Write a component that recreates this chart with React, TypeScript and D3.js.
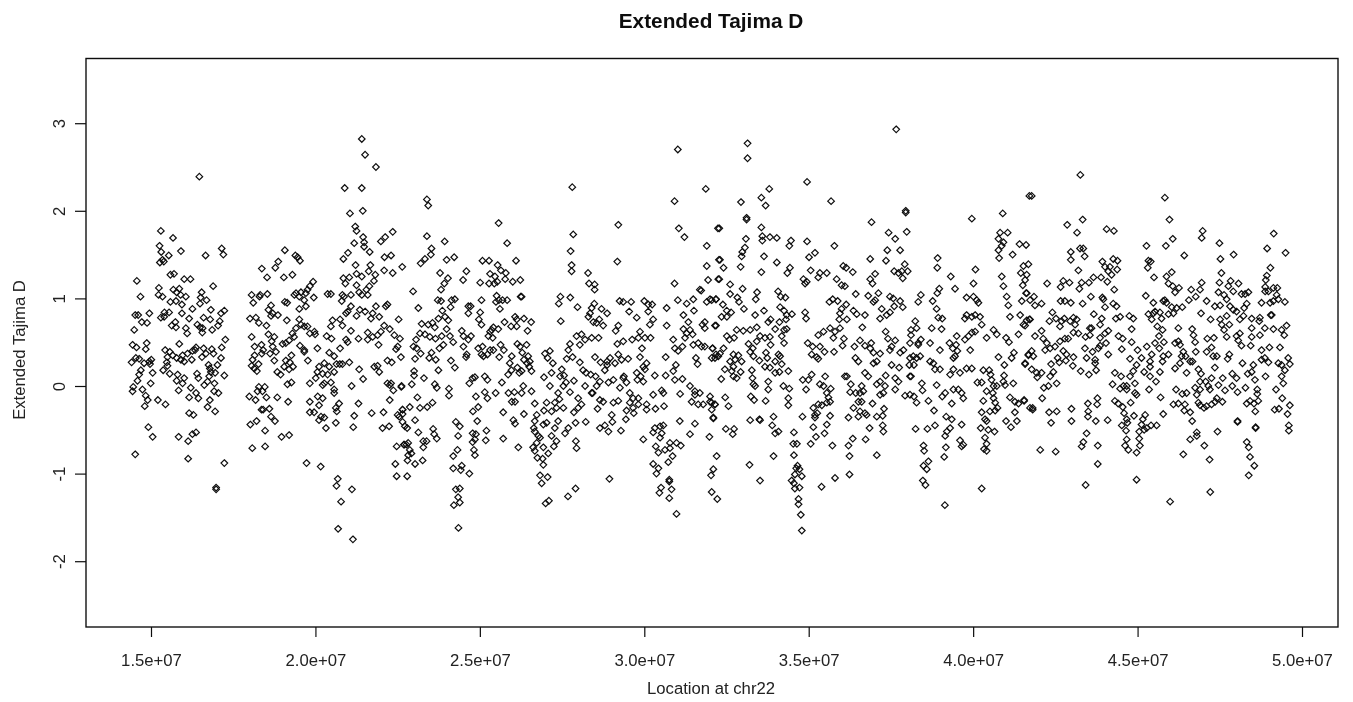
import React, { useEffect, useRef } from "react";
import * as d3 from "d3";

const WIDTH = 1353;
const HEIGHT = 702;

const xTicks = [15, 20, 25, 30, 35, 40, 45, 50];
const xTickLabels = ["1.5e+07", "2.0e+07", "2.5e+07", "3.0e+07", "3.5e+07", "4.0e+07", "4.5e+07", "5.0e+07"];
const yTicks = [-2, -1, 0, 1, 2, 3];

// location in Mb, extended Tajima D
const sectionA: [number, number][] = [
  [16.47,2.39],[21.41,2.82],[21.51,2.64],[21.84,2.5],[20.89,2.26],[21.41,2.26],[21.05,1.97],[21.44,2],[21.21,1.82],[21.25,1.77],[22.35,1.76],[22.12,1.7],[21.99,1.65],[21.45,1.7],[21.48,1.64],[21.48,1.59],[21.18,1.63],[21.65,1.53],[20.99,1.52],[20.85,1.45],[22.1,1.47],[22.3,1.49],[21.22,1.38],[21.67,1.38],[22.64,1.36],[22.09,1.32],[22.35,1.29],[21.62,1.31],[21.82,1.27],[21.25,1.28],[21.41,1.25],[20.85,1.23],[21.03,1.24],[20.91,1.17],[21.78,1.2],[21.25,1.15],[21.64,1.14],[21.55,1.1],[21.33,1.07],[21.59,1.04],[21.41,1.04],
  [15.3,1.77],[15.67,1.69],[15.26,1.6],[15.31,1.53],[15.54,1.49],[15.91,1.54],[15.35,1.44],[15.27,1.41],[15.39,1.42],[17.15,1.57],[17.2,1.5],[16.66,1.49],[15.59,1.27],[15.7,1.28],[16.01,1.22],[16.2,1.22],[14.57,1.2],[16.89,1.14],[15.24,1.12],[15.68,1.1],[15.86,1.11],[15.78,1.07],[16.54,1.07],[14.68,1.02],[15.23,1.04],[15.35,1.02],[15.9,1.04],[16.06,1.02],[16.51,1.01],[16.69,.98],[15.59,.96],[15.76,.97],[15.94,.93],[16.49,.94],[16.26,.88],[16.82,.87],[17.23,.86],[17.13,.83],
  [14.95,.83],[14.52,.81],[14.61,.81],[15.41,.84],[15.55,.84],[15.3,.78],[15.4,.79],[15.94,.83],[16.6,.78],[16.8,.76],[16.16,.77],[17.09,.74],[14.72,.73],[14.88,.72],[15.74,.73],[15.63,.69],[15.76,.67],[16.41,.7],[16.49,.67],[16.57,.66],[17.04,.69],[16.86,.64],[16.06,.66],[16.1,.6],[14.49,.64],[16.56,.61],[17.26,.53],
  [14.44,.47],[14.56,.44],[14.87,.49],[14.84,.42],[15.86,.48],[17.15,.44],[15.43,.41],[15.57,.39],[15.5,.33],[15.66,.35],[15.78,.32],[15.96,.35],[16.11,.37],[16.24,.3],[16.37,.44],[16.26,.4],[16.34,.41],[16.6,.43],[16.85,.42],[16.9,.37],[16.67,.37],[16.55,.33],[17.13,.32],[14.41,.27],[14.54,.32],[14.64,.31],[14.79,.26],[14.95,.28],[15.01,.3],[14.97,.25],[15.48,.27],[15.5,.23],[16.01,.28],[15.91,.3],[16.75,.24],[16.79,.2],[17.02,.24],
  [15.05,.15],[14.69,.18],[14.64,.13],[15.37,.18],[15.57,.14],[15.81,.13],[16.01,.09],[15.78,.06],[15.96,.03],[16.4,.14],[16.44,.09],[16.82,.16],[16.95,.15],[17.23,.12],[16.77,.11],[16.72,.05],[16.62,.01],[14.59,.06],[14.99,.03],[16.93,.03],
  [14.46,-.01],[14.44,-.06],[14.74,-.04],[15.84,-.05],[16.21,-.02],[16.37,-.08],[16.92,-.06],[17.05,-.08],[14.84,-.11],[14.9,-.16],[15.21,-.16],[15.44,-.21],[16.16,-.13],[16.44,-.14],[16.79,-.16],[16.72,-.24],[16.95,-.29],[14.81,-.23],[16.16,-.31],[16.29,-.33],
  [14.92,-.47],[15.05,-.58],[15.84,-.58],[16.13,-.63],[16.26,-.55],[16.37,-.53],[14.52,-.78],[16.13,-.83],[17.23,-.88],[16.98,-1.16],[16.98,-1.18],
  [19.07,1.55],[18.37,1.34],[18.87,1.42],[18.78,1.35],[19.39,1.49],[19.46,1.47],[19.53,1.43],[18.53,1.24],[19.04,1.24],[19.3,1.27],
  [18.06,1.04],[18.3,1.02],[18.54,1.05],[18.32,1.04],[18.11,.95],[19.36,1.04],[19.51,1.02],[19.41,1.06],[19.56,1.07],[19.76,1.1],[19.83,1.14],[19.93,1.19],[19.95,1.01],[19.71,1.06],[19.66,.98],[19.07,.96],[19.14,.95],[18.65,.92],[18.57,.87],[18.7,.83],[18.86,.81],[18.65,.8],[19.51,.88],[19.71,.91],[20.37,1.05],[20.47,1.05],
  [18.01,.77],[18.19,.78],[18.28,.72],[18.51,.69],[19.13,.75],[19.51,.76],[19.56,.7],[19.66,.68],[19.41,.66],[19.3,.6],[19.76,.68],[19.83,.6],[19.99,.59],[19.97,.62],[18.06,.56],[18.57,.59],[18.75,.56],[18.67,.51],[19.2,.52],[19.35,.56],[19.1,.49],[19,.48],[18.36,.47],[18.15,.45],[18.41,.41],[18.37,.37],[18.7,.45],[18.8,.39],[18.62,.37],[19.53,.46],[19.66,.41],[19.66,.39],[20.06,.43],[18.15,.35],[18.09,.3],[18.27,.25],[18.06,.23],[18.14,.2],[18.22,.17],[19.27,.35],[19.1,.29],[19.22,.27],[19.05,.22],[19.32,.22],[19.2,.19],[18.75,.29],[19.77,.29],[18.84,.16],[18.94,.13],[19.15,.02],[19.27,.04],[18.28,-.01],[18.46,-.01],[18.24,-.06],[18.39,-.06],[18.51,-.13],[17.99,-.12],[18.18,-.16],[18.84,-.13],[19.17,-.18],[18.36,-.27],[18.41,-.27],[18.6,-.26],[18.65,-.35],[18.77,-.4],[18.21,-.4],[18.02,-.44],[18.47,-.51],[18.97,-.58],[19.2,-.56],[18.08,-.71],[18.47,-.69],[19.73,-.88],[20.16,-.92],
  [20.52,.75],[20.47,.68],[20.34,.57],[20.49,.54],[20.75,.76],[20.82,.69],[21.08,.63],[20.93,.53],[20.98,.5],[21.31,.54],[20.75,.43],[20.42,.38],[20.57,.34],[20.27,.26],[20.42,.22],[20.11,.22],[20.06,.16],[20.22,.14],[20.37,.13],[20.57,.16],[20.64,.25],[20.74,.25],[20.82,.25],[21.03,.27],[20.01,.09],[19.83,.03],[20.27,.03],[20.22,.01],[20.47,.04],[20.57,-.04],[20.57,-.08],[21.33,.19],[21.45,.08],[21.1,0],[20.07,-.12],[20.22,-.14],[20.11,-.22],[19.83,-.18],[19.83,-.3],[19.96,-.3],[20.72,-.2],[20.62,-.25],[20.65,-.29],[21.31,-.2],[20.17,-.35],[20.27,-.36],[20.11,-.39],[20.32,-.48],[20.62,-.42],[21.18,-.34],[21.15,-.47],[21.71,-.31],[22.07,-.3],[22.04,-.48],[22.24,-.46],[22.26,-.16],[22.19,.03],[22.26,.01],[22.37,-.05],[22.61,-.01],[22.3,.03],[22.19,.29],[22.32,.27],[22.6,.33],[21.79,.22],[21.89,.23],[21.94,.16],
  [21.59,.61],[21.74,.56],[21.59,.53],[21.89,.58],[21.99,.62],[22.09,.69],[22.26,.65],[22.4,.58],[22.57,.54],[22.5,.45],[22.45,.42],[21.92,.47],[21.69,.77],[22.53,.76],[21.35,.87],[21.51,.85],[21.74,.83],[21.84,.91],[21.94,.79],[22.19,.93],[22.14,.91],[21.08,.91],[20.98,.85],[20.93,.83],[21.25,.8],[20.82,1.04],[20.87,1.02],[20.8,.97],[21.08,1.04],[22.47,-.69],[22.7,-.67],[22.43,-.89],[22.47,-1.03],[20.68,-1.06],[20.64,-1.14],[21.11,-1.18],[20.78,-1.32],[20.69,-1.63],[21.14,-1.75],[22.55,-.35],[22.65,-.27],[22.5,-.33],[22.65,-.41],
];

const sectionB: [number, number][] = [
  [31.02,2.7],[27.81,2.27],[31.87,2.25],[30.92,2.11],[23.39,2.13],[23.43,2.06],[25.57,1.86],[29.21,1.84],[31.05,1.8],[31.22,1.7],[32.24,1.8],[23.39,1.71],[27.84,1.73],[23.93,1.65],[25.83,1.63],[31.9,1.6],[27.76,1.54],[23.53,1.57],[23.51,1.5],[23.33,1.45],[23.2,1.4],[23.99,1.44],[24.22,1.47],[25.08,1.43],[25.28,1.43],[26.1,1.43],[29.18,1.42],[27.79,1.38],[27.79,1.31],[25.54,1.38],[25.64,1.32],[25.79,1.29],[25.31,1.28],[25.46,1.25],[31.9,1.37],[32.27,1.44],[23.79,1.29],[24.59,1.31],[28.29,1.29],[24.03,1.23],[23.92,1.17],[23.82,1.1],[24.49,1.21],[25.01,1.18],[25.28,1.17],[25.44,1.17],[25.53,1.19],[25.77,1.22],[26,1.19],[26.23,1.21],[28.32,1.17],[28.49,1.16],[28.49,1.1],[30.92,1.17],[31.94,1.21],[32.25,1.22],[22.97,1.08],[31.73,1.09],[31.69,1.1],[27.45,1.02],[27.4,.94],[27.75,1.01],[26.24,1.02],[26.27,1.02],[25.51,1.03],[25.58,.98],[25.69,.98],[25.83,.98],[25.49,.96],[23.72,.98],[23.82,.97],[24.14,.98],[24.24,.99],[24.11,.9],[25.05,.98],[29.25,.97],[29.36,.96],[29.6,.96],[30,.97],[30.12,.93],[30.24,.93],[30.12,.85],[31.02,.98],[31.29,.94],[31.49,.99],[31.51,.86],[31.9,.96],[32.05,.98],[32.18,.99],[23.13,.89],[24.65,.91],[24.72,.91],[24.65,.83],[25.01,.84],[25.61,.88],[27.97,.9],[28.48,.94],[28.4,.89],[28.35,.83],[28.3,.79],[28.7,.88],[28.87,.83],[29.54,.85],[30.68,.89],
  [23.86,.86],[23.94,.79],[24.04,.75],[23.74,.77],[23.56,.72],[23.43,.7],[23.63,.67],[23.23,.71],[24.97,.76],[25.05,.7],[26.07,.79],[26.12,.76],[26.34,.77],[26.56,.73],[25.95,.68],[26.12,.68],[26.45,.63],[25.75,.73],[25.41,.67],[25.56,.65],[25.31,.62],[25.36,.64],[27.46,.74],[29.77,.78],[30.27,.76],[30.17,.7],[31.19,.81],[31.34,.73],[31.19,.65],[31.39,.64],[31.47,.59],[31.29,.6],[31.24,.55],[30.68,.69],[31.77,.7],[31.84,.73],[31.84,.66],[32.15,.69],[28.45,.73],[28.63,.76],[28.75,.69],[28.55,.72],[29.21,.69],[29.13,.63],[24.45,.63],[24.5,.57],[24.73,.57],[24.65,.53],[23.99,.65],[24.09,.57],[24.19,.5],[23.18,.6],[23.33,.59],[23.48,.56],[23.06,.53],[23.84,.57],[23.65,.54],[25.26,.57],[25.39,.55],[27.94,.57],[28.09,.59],[28.2,.53],[28.4,.55],[28.61,.55],[29.87,.62],[29.82,.55],[29.63,.53],[30.02,.55],[30.19,.55],[29.36,.51],[29.18,.48],[30.88,.53],[25.63,.47],[25.73,.41],[26.14,.48],[26.22,.45],[26.42,.47],[27.74,.48],[27.69,.41],[28.04,.47],[31.49,.47],[31.64,.49],[31.74,.45],[31.84,.45],[32.07,.43],[32.25,.34],
  [24.5,.45],[24.95,.43],[25.08,.45],[25.31,.41],[25.23,.36],[25.11,.34],[25.05,.36],[25.41,.41],[22.98,.45],[23.08,.43],[23.2,.37],[23.03,.31],[23.77,.43],[23.89,.47],[23.53,.38],[23.46,.32],[23.66,.3],[24.6,.36],[24.58,.33],[30.93,.43],[31.03,.4],[31.16,.45],[29.93,.43],[26.98,.37],[27.13,.4],[27.06,.32],[27.22,.26],[25.59,.33],[25.97,.34],[25.91,.26],[26.29,.38],[26.47,.34],[26.52,.28],[26.34,.3],[26.44,.26],[26.5,.22],[29.87,.33],[28.5,.33],[28.67,.27],[28.87,.28],[28.96,.32],[29.11,.26],[29.21,.36],[29.31,.3],[29.51,.31],[28.87,.24],[28.8,.18],[27.64,.31],[27.82,.33],[30.65,.33],[31.57,.32],[31.62,.25],[32.18,.36],[24.12,.29],[24.24,.21],[28.04,.27],[28.14,.18],[28.23,.15],[28.37,.13],[28.52,.11],[26.14,.21],[26.2,.15],[25.86,.13],[25.96,.18],[26.27,.17],[26.57,.17],[23,.17],[23,.12],[23.74,.18],[23.3,.09],[24.78,.09],[24.85,.1],[25.15,.11],[25.23,.07],[24.68,.03],[26.95,.1],[27.18,.15],[27.49,.19],[27.56,.12],[27.44,.11],[27.86,.06],[29.77,.15],[29.89,.11],[30.07,.26],[29.97,.22],[30.02,.19],[30.32,.12],[29.79,.07],[29.97,.05],[28.91,.04],[29.06,.07],[29.38,.11],[29.46,.04],[29.26,-.02],[29.36,.09],[30.65,.12],[30.88,.17],[30.96,.24],[30.93,.07],[31.16,.08],[22.93,.02],[22.62,0],[23.63,.02],[23.69,-.02],[24.06,-.03],[24.06,-.11],[25.67,.04],[27.13,0],[27.54,0],[27.62,.04],[27.74,-.07],[28.2,0],[28.4,-.08],[28.55,0],[28.65,.05],[26.32,0],[26.27,-.08],[26.57,-.06],[26.67,-.2],
  [25.87,-.08],[26.05,-.07],[25.97,-.18],[26.07,-.18],[25.15,-.07],[25.48,-.08],[24.88,-.12],[25.23,-.14],[23.1,-.13],[23.56,-.19],[23.4,-.24],[23.18,-.25],[22.87,-.24],[22.65,-.27],[22.65,-.32],[24.95,-.24],[24.79,-.29],[25.71,-.3],[26.34,-.32],[27.38,-.08],[27.42,-.15],[27.28,-.19],[27.18,-.29],[27.33,-.25],[27.54,-.25],[27.03,-.19],[26.95,-.28],[28.09,-.21],[27.99,-.14],[27.99,-.25],[27.86,-.3],[28.43,-.08],[28.65,-.16],[28.75,-.18],[29.06,-.19],[29.21,-.17],[28.58,-.26],[29.56,-.08],[29.66,-.14],[29.82,-.14],[29.56,-.19],[29.66,-.25],[29.82,-.21],[29.46,-.28],[29.68,-.31],[30.07,-.27],[30.07,-.21],[30.34,-.26],[30.58,-.08],[30.53,-.05],[30.6,-.23],[30.27,-.1],[31.39,0],[31.54,-.1],[31.69,-.08],[31.44,-.18],[31.64,-.21],[31.54,-.06],[32.15,-.21],[32,-.18],[31.79,-.21],[32.05,-.27],[31.09,-.09],[29.01,-.33],[28.8,-.45],[29.03,-.41],[28.65,-.48],[28.91,-.52],[29.29,-.51],[29.44,-.38],[31.08,-.4],[31.54,-.43],[32.1,-.37],
  [23.03,-.39],[23.13,-.53],[22.79,-.48],[22.72,-.46],[23.58,-.49],[23.61,-.55],[23.69,-.6],[23.28,-.63],[23.38,-.63],[23.28,-.7],[22.77,-.67],[22.69,-.67],[22.82,-.65],[22.87,-.73],[22.92,-.77],[22.82,-.79],[22.8,-.85],[23.26,-.85],[23.03,-.89],[22.79,-1.03],[24.27,-.41],[24.39,-.46],[24.34,-.57],[24.92,-.4],[24.78,-.54],[24.88,-.55],[24.85,-.61],[24.78,-.64],[25.2,-.51],[25.18,-.62],[25.71,-.6],[26.02,-.39],[26.07,-.43],[26.17,-.7],[26.73,-.33],[26.67,-.4],[26.64,-.48],[26.67,-.52],[26.78,-.57],[26.83,-.59],[26.73,-.65],[26.62,-.7],[26.67,-.74],[26.93,-.7],[26.75,-.82],[26.91,-.83],[26.93,-.44],[27.03,-.42],[27.28,-.48],[27.38,-.4],[27.18,-.57],[27.33,-.63],[27.25,-.69],[27.08,-.77],[27.59,-.54],[27.69,-.48],[27.91,-.42],[28.22,-.41],[27.92,-.63],[27.94,-.71],[26.93,-.9],[26.83,-1.02],[26.88,-1.11],[27.06,-1.04],[27,-1.34],[27.1,-1.31],[27.68,-1.26],[27.91,-1.17],[28.94,-1.06],[29.97,-.61],[31.39,-.55],[31.98,-.58],
  [30.32,-.48],[30.48,-.46],[30.58,-.45],[30.27,-.53],[30.53,-.54],[30.48,-.59],[30.35,-.69],[30.63,-.73],[30.43,-.76],[30.78,-.65],[30.98,-.65],[31.11,-.68],[30.78,-.71],[30.86,-.8],[30.73,-.87],[30.27,-.89],[30.43,-.94],[30.37,-1],[30.76,-1.07],[30.76,-1.09],[30.51,-1.16],[30.83,-1.18],[30.46,-1.22],[30.76,-1.28],[30.98,-1.46],[32.2,-.8],[32.1,-.95],[32.03,-1.02],[32.05,-1.21],[32.22,-1.29],[24.19,-.8],[24.32,-.73],[24.19,-.94],[24.45,-.91],[24.42,-.96],[24.68,-1],[24.82,-.73],[24.85,-.79],[24.27,-1.18],[24.39,-1.17],[24.34,-1.27],[24.39,-1.33],[24.21,-1.36],[24.35,-1.62],
];

const sectionC: [number, number][] = [
  [37.66,2.93],[33.14,2.77],[33.14,2.6],[34.95,2.33],[33.8,2.25],[33.56,2.15],[33.69,2.06],[32.94,2.1],[35.68,2.11],[37.95,2],[37.95,1.98],[40.9,1.97],[41.71,2.17],[39.96,1.91],[33.11,1.92],[33.11,1.9],[36.91,1.87],[32.28,1.8],[33.56,1.81],[37.43,1.75],[37.98,1.76],[37.63,1.68],[37.78,1.55],[40.82,1.75],[41.05,1.75],[40.77,1.68],[40.92,1.64],[40.87,1.6],[40.77,1.55],[40.79,1.46],[33.09,1.68],[33.06,1.58],[32.98,1.53],[32.96,1.48],[32.93,1.36],[33.59,1.71],[33.59,1.66],[33.82,1.7],[34.03,1.69],[34.46,1.66],[34.41,1.6],[34.95,1.65],[35.78,1.6],[41.41,1.62],[41.61,1.61],[35.19,1.52],[35.01,1.47],[33.64,1.48],[32.3,1.44],[32.41,1.35],[32.28,1.22],[34.03,1.41],[36.87,1.45],[37.39,1.55],[37.35,1.43],[41.2,1.5],[36.05,1.37],[36.14,1.35],[36.34,1.3],[37.92,1.39],[37.83,1.31],[37.73,1.29],[38.01,1.31],[37.6,1.31],[37.86,1.23],[38.92,1.46],[38.91,1.35],[39.32,1.25],[40.07,1.33],[40.87,1.25],[40.92,1.14],[34.43,1.35],[34.35,1.29],[33.56,1.3],[35.06,1.32],[35.34,1.29],[35.55,1.29],[35.29,1.24],[35.85,1.22],[34.84,1.22],[34.94,1.19],[34.89,1.17],[37.02,1.28],[36.87,1.22],[36.94,1.17],[41.53,1.37],[41.68,1.39],[41.45,1.29],[41.63,1.27],[41.58,1.21],[41.51,1.15],[41.61,1.06],[36,1.15],[36.1,1.14],[36.43,1.05],
  [32.61,1.16],[32.99,1.11],[32.61,1.05],[32.83,1.01],[32.88,.96],[33.03,.88],[33.43,1.07],[33.39,.99],[34.07,1.08],[34.15,1.02],[34.29,1.01],[40.01,1.17],[39.45,1.11],[38.97,1.11],[38.91,1.06],[39.8,1.01],[40.01,1.02],[40.11,.98],[40.16,.95],[41.02,1.02],[41.07,.92],[41.48,.97],[41.73,.98],[32,.99],[32.18,.99],[36.81,1.03],[37.12,1.06],[37.02,.98],[36.97,.96],[37.47,1.02],[37.57,1],[37.78,.97],[37.6,.91],[37.86,.9],[35.63,.96],[35.73,.99],[35.88,.97],[38.41,1.04],[38.33,.96],[38.77,.97],[32.39,.93],[32.35,.79],[32.51,.86],[32.64,.84],[32.51,.79],[34.13,.9],[34.25,.86],[34.33,.81],[34.49,.82],[34.31,.76],[34.11,.73],[33.64,.86],[33.37,.81],[34.89,.84],[34.92,.77],[36.14,.93],[36,.88],[35.95,.83],[35.93,.76],[36.16,.76],[36.36,.86],[36.46,.82],[36.71,.81],[37.22,.88],[37.17,.77],[37.47,.84],[37.37,.81],[38.89,.88],[38.94,.78],[39.06,.77],[39.8,.81],[39.75,.77],[40.06,.81],[40.21,.79],[39.96,.79],[41.12,.79],[41.43,.81],[41.63,.75],[32.18,.69],[33.84,.76],[33.77,.73],[33.98,.65],[33.22,.64],[33.42,.67],[33.01,.63],[32.81,.64],[38.24,.74],[38.28,.66],[38.11,.64],[38.11,.58],[36.63,.67],[38.74,.66],[39.04,.65],[40.26,.7],[40.62,.64],[40.72,.59],[34.33,.65],[34.25,.64],[34.18,.57],[35.65,.66],[35.45,.62],[35.29,.58],[35.8,.62],[35.95,.66],[41.58,.69],[41.38,.59],[41.73,.76],
  [32.51,.57],[32.73,.55],[32.59,.53],[33.52,.57],[33.67,.55],[33.82,.56],[33.42,.51],[35.75,.55],[36.07,.54],[36.03,.46],[37.34,.62],[37.41,.54],[37.63,.52],[39.96,.61],[40.06,.62],[39.86,.57],[39.75,.53],[39.5,.57],[39.28,.49],[39.48,.47],[39.38,.43],[40.41,.55],[41,.55],[41.09,.5],[38.08,.49],[38.41,.53],[38.33,.47],[38.69,.49],[38.99,.41],[33.84,.47],[34.25,.49],[33.17,.48],[34.97,.49],[35.12,.45],[35.34,.45],[35.48,.39],[36.56,.52],[36.71,.46],[36.9,.49],[36.87,.43],[36.97,.38],[37.17,.37],[36.39,.45],[35.77,.39],[32.08,.43],[32.41,.43],[32.3,.37],[32.15,.32],[32.05,.32],[33.3,.43],[33.22,.39],[33.32,.34],[33.7,.38],[33.74,.32],[33.5,.29],[32.71,.36],[32.86,.35],[32.76,.3],[32.96,.28],[32.61,.28],[32.71,.22],[34.13,.34],[33.98,.28],[34.18,.25],[34.08,.36],[35.09,.36],[35.29,.31],[35.24,.33],[37.52,.45],[37.47,.41],[37.88,.41],[37.78,.38],[38.33,.49],[38.18,.34],[38.08,.32],[38.28,.32],[38.39,.34],[38.06,.24],[38.2,.24],[38.69,.28],[38.79,.26],[39.45,.34],[39.52,.4],[39.4,.32],[39.91,.41],[40.77,.33],[41.17,.32],[41.24,.38],[41.58,.26],[41.68,.36],[36.42,.32],[36.51,.28],[36.97,.26],[37.07,.28],[37.52,.24],[37.75,.21],[38.08,.11],[39.4,.19],[39.6,.15],[39.3,.13],[38.99,.19],[38.84,.19],[39.8,.2],[39.96,.2],[40.31,.18],[40.49,.18],[40.95,.24],
  [32.45,.19],[32.34,.08],[32.66,.17],[32.93,.16],[32.71,.11],[32.81,.09],[33.27,.18],[33.29,.09],[33.32,.02],[33.37,0],[33.67,.22],[33.82,.21],[33.98,.15],[34.11,.16],[34.38,.17],[33.77,.05],[33.77,-.04],[34.23,0],[34.41,-.03],[34.82,.07],[35.09,.13],[34.99,.07],[34.92,-.04],[35.5,.11],[35.34,.02],[35.45,0],[35.67,-.03],[35.55,-.08],[35.6,-.13],[36.1,.11],[36.16,.11],[36.28,.02],[36.26,-.07],[36.43,-.08],[36.71,.15],[36.81,.11],[36.61,0],[36.66,-.06],[36.56,-.08],[37.17,.05],[37.34,.12],[37.07,.02],[37.32,0],[37.27,-.08],[37.17,-.1],[37.63,.09],[37.73,.05],[37.63,-.04],[38.11,.11],[37.93,-.11],[38.08,-.1],[38.2,-.12],[38.28,-.19],[38.44,.03],[38.46,-.05],[38.89,.01],[39.15,-.08],[39.06,-.12],[39.4,-.04],[39.55,-.04],[39.65,-.08],[39.7,-.14],[40.13,.04],[40.26,.04],[40.41,-.06],[40.53,.13],[40.56,.07],[40.62,0],[40.72,0],[40.94,.12],[40.92,.05],[40.97,.01],[41.22,.03],[40.6,-.08],[40.62,-.14],[40.67,-.19],[40.74,-.25],[40.31,-.17],[41.12,-.13],[41.27,-.18],[41.38,-.2],[41.27,-.3],[41.55,-.16],[32.46,-.13],[32.56,-.23],[32,-.12],[32.15,-.21],[32.05,-.19],[32.1,-.36],[33.24,-.12],[33.34,-.16],[33.69,-.17],[34.38,-.14],[34.38,-.22],
  [33.22,-.39],[33.5,-.38],[33.52,-.39],[33.93,-.35],[33.89,-.45],[33.98,-.54],[34.08,-.52],[32.48,-.49],[32.73,-.49],[32.69,-.55],[34.81,-.35],[35.14,-.25],[35.29,-.21],[35.19,-.33],[35.26,-.31],[35.19,-.36],[35.65,-.18],[35.55,-.19],[35.4,-.22],[35.65,-.34],[35.14,-.47],[35.55,-.44],[35.48,-.54],[35.22,-.58],[35.06,-.66],[36.36,-.25],[36.51,-.18],[36.61,-.18],[36.56,-.29],[36.71,-.31],[36.76,-.33],[36.21,-.36],[36.51,-.35],[36.94,-.2],[37.07,-.35],[37.29,-.26],[37.25,-.34],[37.25,-.45],[37.27,-.52],[36.85,-.48],[36.73,-.61],[36.34,-.6],[36.21,-.68],[35.72,-.68],[36.24,-.8],[37.07,-.79],[36.24,-1.01],[35.8,-1.05],[35.39,-1.15],[34.55,-.53],[34.53,-.66],[34.64,-.66],[34.55,-.79],[33.93,-.8],[33.2,-.9],[33.52,-1.08],[34.66,-.91],[34.62,-.94],[34.72,-.95],[34.58,-1.01],[34.79,-1.03],[34.48,-1.08],[34.55,-1.11],[34.72,-1.16],[34.58,-1.17],[34.69,-1.29],[34.69,-1.35],[34.76,-1.47],[34.79,-1.65],[38.64,-.17],[38.81,-.28],[38.84,-.45],[38.61,-.49],[38.25,-.49],[39.35,-.2],[39.65,-.44],[39.18,-.35],[39.35,-.38],[39.3,-.48],[39.2,-.52],[39.15,-.57],[38.49,-.68],[38.51,-.74],[38.49,-.91],[38.64,-.86],[38.59,-.95],[38.47,-1.08],[38.55,-1.13],[39.17,-.7],[39.12,-.81],[39.6,-.62],[39.7,-.67],[39.65,-.69],[39.14,-1.36],[40.26,-1.17],[40.26,-.3],[40.36,-.38],[40.41,-.4],[40.46,-.5],[40.23,-.48],[40.65,-.52],[40.36,-.59],[40.41,-.66],[40.33,-.72],[40.41,-.74],[40.51,-.29],[40.67,-.28],[41,-.4],[41.15,-.47],[41.33,-.4],[41.73,-.25],
];

const sectionD: [number, number][] = [
  [43.26,2.41],[41.78,2.17],[45.83,2.15],[43.33,1.9],[42.86,1.84],[43.16,1.75],[45.97,1.9],[44.06,1.79],[44.28,1.77],[46.98,1.77],[46.95,1.69],[49.14,1.74],[46.07,1.68],[45.86,1.6],[45.27,1.6],[47.49,1.63],[47.92,1.5],[48.94,1.57],[49.5,1.52],[46.42,1.49],[47.52,1.45],[42.97,1.53],[42.97,1.44],[43.25,1.57],[43.35,1.57],[43.39,1.48],[43.93,1.42],[44.01,1.36],[44.16,1.36],[44.11,1.31],[44.26,1.45],[44.39,1.43],[44.38,1.33],[44.21,1.27],[44.08,1.19],[43.89,1.24],[45.33,1.43],[45.4,1.42],[45.31,1.35],[45.5,1.24],[45.88,1.25],[46.04,1.3],[45.94,1.17],[46.07,1.14],[46.26,1.12],[46.14,1.07],[49.04,1.35],[48.93,1.26],[48.9,1.21],[48.88,1.13],[48.98,1.08],[48.88,1.08],[49.13,1.12],[49.25,1.12],[49.23,1.04],[49.28,.99],[49.13,.97],[43.2,1.32],[43.3,1.18],[43.23,1.11],[43.52,1.18],[43.66,1.24],[47.55,1.29],[47.49,1.18],[47.46,1.07],[42.25,1.17],[42.74,1.2],[42.93,1.18],[42.66,1.13],[46.95,1.18],[46.9,1.1],[46.63,1.1],[46.77,1.02],[46.56,.98],[47.76,1.14],[47.83,1.2],[48.07,1.17],[47.91,1.08],[48.16,1.05],[48.37,1.07],[48.27,1.05],[44.29,1.1],[45.25,1.03],[41.85,1.02],[41.63,1.06],[42.08,.94],[41.88,.92],[43.93,1.01],[43.96,.99],[43.58,1.02],[43.33,.94],[42.66,.97],[42.79,.97],[42.97,.95],[45.48,.95],[45.83,.98],[45.88,.95],[45.78,.97],[46.19,.89],[46.36,.9],[46.04,.9],[46.09,.83],[45.94,.82],[47.1,.97],[47.35,.91],[47.51,.92],[47.63,1.04],[47.71,.99],[47.81,.91],[47.91,.87],[48.01,.85],[48.32,.94],[48.24,.89],[48.22,.8],[48.11,.76],[49.48,.96],[48.77,.95],[49.03,.95],[44.26,.94],[44.36,.91],[44.01,.9],
  [43.67,.82],[43.91,.77],[43.86,.7],[42.41,.84],[42.32,.74],[42.52,.77],[42.69,.74],[42.64,.68],[42.77,.77],[42.95,.74],[43.05,.78],[43.15,.76],[43.1,.7],[41.71,.76],[41.53,.7],[44.47,.79],[44.34,.77],[44.75,.8],[44.87,.77],[44.82,.65],[45.33,.82],[45.48,.83],[45.53,.85],[45.43,.76],[45.68,.84],[45.73,.77],[46.93,.83],[47.22,.76],[47.51,.76],[47.71,.8],[47.56,.7],[47.63,.64],[47.79,.7],[48.47,.77],[48.72,.78],[48.7,.74],[48.47,.66],[48.72,.58],[48.87,.66],[49.05,.81],[49.08,.81],[45.6,.68],[45.76,.64],[45.65,.57],[45.8,.5],[46.24,.66],[46.66,.65],[46.7,.58],[46.75,.5],[48.11,.6],[48.01,.57],[48.06,.52],[48.16,.46],[48.47,.56],[48.44,.46],[47.71,.56],[49.13,.65],[49.53,.69],[49.38,.64],[49.46,.58],[42.08,.63],[41.88,.57],[42.13,.54],[42.24,.49],[42.19,.41],[42.34,.43],[42.49,.45],[42.64,.51],[42.79,.54],[42.89,.54],[43.05,.61],[43.2,.6],[43.55,.66],[43.6,.66],[43.55,.58],[43.42,.56],[44.11,.63],[44.01,.6],[43.86,.55],[44.04,.49],[43.86,.46],[43.81,.43],[44.42,.57],[44.55,.54],[44.82,.5],[43.4,.43],[44.52,.42],[45,.41],[45.28,.45],[45.53,.49],[45.66,.43],[47.12,.54],[47.32,.55],[47.25,.44],[47.1,.39],[46.14,.49],[46.24,.51],[46.29,.47],[46.39,.39],[46.77,.39],[48.77,.41],[49.01,.44],[49.33,.44],[41.78,.4],[41.68,.35],[41.83,.34],[42.74,.4],[42.84,.36],[43.05,.33],[42.82,.29],[42.57,.32],[42.62,.27],[43.45,.32],[43.63,.39],[43.71,.3],[43.71,.26],[44.11,.36],[44.77,.31],[45.12,.32],[45.43,.36],[45.38,.28],[45.38,.22],[45.78,.34],[45.94,.36],[45.76,.28],[46.34,.34],[46.46,.34],[46.6,.28],[46.67,.28],[46.29,.26],[46.14,.2],[47.3,.34],[47.41,.34],[47.79,.36],[47.74,.31],[48.19,.26],[48.77,.3],[48.87,.32],[48.98,.27],[49.58,.32],[49.28,.26],[49.38,.24],[49.63,.25],
  [41.58,.25],[41.78,.19],[41.93,.15],[42.08,.15],[41.95,.1],[42.37,.25],[42.44,.16],[42.34,.11],[42.54,.03],[43.03,.23],[43.27,.17],[43.52,.13],[43.74,.18],[44.97,.24],[44.87,.17],[44.77,.11],[44.92,.03],[44.67,0],[44.31,.15],[44.5,.11],[44.24,.02],[44.57,0],[45.2,.16],[45.38,.11],[45.56,.05],[45.68,.16],[46.49,.15],[46.85,.19],[46.93,.14],[47.35,.21],[46.9,.05],[47.07,.05],[47.25,.09],[47.15,0],[47.46,.01],[47.2,-.04],[47.59,.09],[47.88,.14],[48.01,.09],[48.35,.14],[48.52,.24],[48.47,.16],[48.57,.07],[48.89,.11],[49.38,.11],[49.48,.18],[49.43,.03],[42.15,-.02],[42.29,0],[42.1,-.14],[41.55,-.17],[44.47,-.03],[44.67,-.04],[44.92,-.08],[44.97,-.1],[45.35,-.04],[45.7,-.13],[46.17,-.04],[46.36,-.09],[46.49,-.08],[46.75,-.02],[46.8,-.1],[46.9,-.04],[47.66,-.05],[47.88,0],[48.04,-.07],[48.28,-.02],[48.64,-.04],[48.64,-.09],[49.21,-.04],[49.4,-.14],[47.41,-.14],[47.58,-.18],[47.36,-.18],[47.25,-.21],[44.31,-.17],[44.41,-.2],[44.55,-.24],[44.79,-.19],[43.78,-.14],[43.49,-.2],[43.77,-.21],[46.09,-.21],[46.24,-.2],[46.44,-.21],[46.42,-.28],[46.6,-.3],[46.85,-.19],[46.9,-.22],[47.02,-.25],[47.1,-.23],[48.32,-.2],[48.42,-.17],[48.54,-.2],[48.67,-.17],[48.58,-.29],[49.17,-.27],[49.3,-.26],[49.63,-.22],[49.56,-.32],
  [41.81,-.25],[41.81,-.27],[42.31,-.3],[42.54,-.29],[42.99,-.26],[42.99,-.4],[42.37,-.42],[43.5,-.29],[43.49,-.35],[43.73,-.4],[44.09,-.39],[44.59,-.31],[44.67,-.38],[44.52,-.45],[44.69,-.42],[44.65,-.51],[44.89,-.34],[45.23,-.33],[45.16,-.38],[45.12,-.44],[45.2,-.5],[45.05,-.52],[45.28,-.48],[45.41,-.45],[45.58,-.45],[45.78,-.32],[46.66,-.4],[48.04,-.4],[48.04,-.41],[48.59,-.47],[48.59,-.48],[49.6,-.45],[49.6,-.51],[47.43,-.52],[43.45,-.54],[43.35,-.64],[43.3,-.69],[43.79,-.68],[46.8,-.53],[46.8,-.57],[46.6,-.61],[47.03,-.68],[44.67,-.61],[44.62,-.68],[44.72,-.73],[44.97,-.76],[45.07,-.68],[45.05,-.6],[42.04,-.73],[42.51,-.75],[46.39,-.78],[47.19,-.84],[48.32,-.64],[48.38,-.7],[48.42,-.81],[48.55,-.91],[48.38,-1.02],[43.79,-.89],[43.42,-1.13],[44.97,-1.07],[45.99,-1.32],[47.21,-1.21],
];

export default function App() {
  const svgRef = useRef<SVGSVGElement>(null);

  useEffect(() => {
    const svg = d3.select(svgRef.current);

    // Clear previous content
    svg.selectAll("*").remove();

    const box = { left: 86, right: 1338, top: 58.5, bottom: 627 };

    const xScale = d3.scaleLinear().domain([15, 50]).range([151, 1302]);
    const yScale = d3.scaleLinear().domain([-2, 3]).range([561.2, 123.2]);

    const font = "'Liberation Sans', Arial, sans-serif";

    svg
      .append("defs")
      .append("filter")
      .attr("id", "soft")
      .append("feGaussianBlur")
      .attr("stdDeviation", 0.35);

    const root = svg.append("g").attr("filter", "url(#soft)");

    root
      .append("rect")
      .attr("x", box.left)
      .attr("y", box.top)
      .attr("width", box.right - box.left)
      .attr("height", box.bottom - box.top)
      .attr("fill", "none")
      .attr("stroke", "#111")
      .attr("stroke-width", 1.4);

    // X axis
    const xAxis = root
      .append("g")
      .attr("transform", `translate(0,${box.bottom})`)
      .call(
        d3
          .axisBottom(xScale)
          .tickValues(xTicks)
          .tickFormat((_, i) => xTickLabels[i])
          .tickSize(10)
          .tickPadding(17)
      );
    xAxis.select(".domain").remove();
    xAxis.selectAll("line").attr("stroke", "#111").attr("stroke-width", 1.2);
    xAxis
      .selectAll("text")
      .attr("font-family", font)
      .attr("font-size", 16.7)
      .attr("fill", "#222");

    // Y axis, plain hyphen on the negative labels
    const yAxis = root
      .append("g")
      .attr("transform", `translate(${box.left},0)`)
      .call(d3.axisLeft(yScale).tickValues(yTicks).tickFormat((d) => String(d)).tickSize(11));
    yAxis.select(".domain").remove();
    yAxis.selectAll("line").attr("stroke", "#111").attr("stroke-width", 1.2);
    yAxis
      .selectAll("text")
      .attr("font-family", font)
      .attr("font-size", 16.7)
      .attr("fill", "#222")
      .attr("text-anchor", "middle")
      .attr("dy", 0)
      .attr("x", 0)
      .attr("y", 0)
      .attr("transform", "translate(-21,0) rotate(-90)");

    // Points
    const points = [...sectionA, ...sectionB, ...sectionC, ...sectionD];
    const diamond = d3.symbol().type(d3.symbolDiamond2).size(28);
    root
      .append("g")
      .selectAll("path")
      .data(points)
      .join("path")
      .attr("d", diamond())
      .attr("transform", (d) => `translate(${xScale(d[0])},${yScale(d[1])})`)
      .attr("fill", "none")
      .attr("stroke", "#111")
      .attr("stroke-width", 1.2);

    // Labels
    root
      .append("text")
      .attr("x", 711)
      .attr("y", 28)
      .attr("text-anchor", "middle")
      .attr("font-family", font)
      .attr("font-size", 20.8)
      .attr("font-weight", "bold")
      .attr("fill", "#111")
      .text("Extended Tajima D");

    root
      .append("text")
      .attr("x", 711)
      .attr("y", 694)
      .attr("text-anchor", "middle")
      .attr("font-family", font)
      .attr("font-size", 16.7)
      .attr("fill", "#222")
      .text("Location at chr22");

    root
      .append("text")
      .attr("transform", "translate(25,350) rotate(-90)")
      .attr("text-anchor", "middle")
      .attr("font-family", font)
      .attr("font-size", 16.7)
      .attr("fill", "#222")
      .text("Extended Tajima D");
  }, []);

  return (
    <svg
      ref={svgRef}
      width={WIDTH}
      height={HEIGHT}
      style={{ position: "absolute", left: 0, top: 0, background: "#fff" }}
    />
  );
}
